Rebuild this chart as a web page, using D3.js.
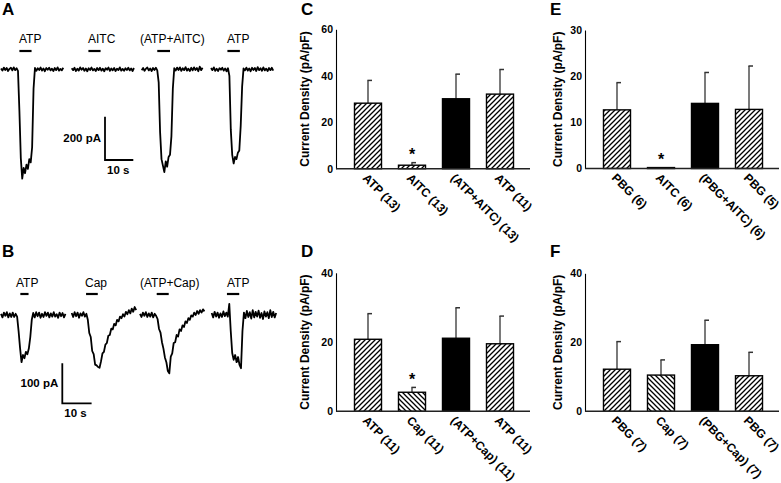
<!DOCTYPE html>
<html><head><meta charset="utf-8">
<script src="https://cdn.jsdelivr.net/npm/d3@7"></script>
<style>body{margin:0;background:#fff}svg{display:block;font-family:"Liberation Sans",Arial,sans-serif}</style>
</head><body><svg id="c" width="781" height="483"></svg>
<script>
// ================= DATA =================
const sampleDt = 0.5; // seconds between samples of each trace
// Panel A traces (pA, inward negative)
const traceLabelsA = ["ATP", "AITC", "(ATP+AITC)", "ATP"];
const stimA = [[6.5, 10.8], [5.9, 10.2], [5.5, 10.0], [5.8, 10.2]]; // s
const traceA1 = [4,-6,8,-3,6,-8,2,7,-5,9,-4,5,-7,
  -190,-410,-505,-455,-480,-440,-460,-415,-430,-360,-90,6,
  -7,5,-3,8,-6,4,-9,6,-2,7,-5,3,-8,6,-4,9,-6,2,-5,7];
const traceA2 = [5,-4,7,-8,3,-6,9,-2,6,-7,4,-9,5,-3,8,-5,2,-8,6,-4,7,-6,3,-9,5,-2,8,-7,4,-5,6,-8,3,-4,9,-6,2,-7,5,-3,7,-5,4,-8,6];
const traceA3 = [-4,6,-7,3,8,-5,4,-8,6,-3,7,-5,
  -60,-290,-415,-445,-475,-425,-450,-405,-395,-310,-90,5,
  -6,8,-3,9,-7,5,-4,10,-6,3,-8,7,-5,9,-3,6,-9,12,-4,7];
const traceA4 = [6,-4,9,-7,3,-8,5,-2,7,-6,4,-9,5,
  -30,-280,-395,-435,-405,-415,-385,-375,-260,-80,4,
  -5,8,-6,4,-9,7,-3,6,-8,10,-4,5,-7,9,-5,3,-8,6,-4,7,-6];
// Panel B traces
const traceLabelsB = ["ATP", "Cap", "(ATP+Cap)", "ATP"];
const stimB = [[6.6, 9.4], [4.9, 8.9], [5.7, 9.8], [5.2, 9.4]];
const traceB1 = [3,-6,6,-2,7,-6,4,-5,6,-5,3,-4,
  -40,-82,-118,-100,-108,-92,-98,-84,-55,-12,
  5,-6,7,-3,6,-7,3,-5,7,-2,6,-6,4,-4,7,-4,2,-7,6,-3,5,-6,3];
const traceB2 = [5,-5,7,-3,6,-7,4,-2,7,-4,3,
  -12,-45,-55,-90,-98,-124,-126,-130,-132,-116,-96,-92,-74,-70,-52,-50,-34,-36,-22,-26,-12,-16,-4,
  -8,2,-4,8,2,12,4,16,8,20,12];
const traceB3 = [3,-5,6,-2,7,-5,4,-4,6,-6,3,-2,
  -10,-35,-44,-68,-84,-106,-118,-140,-146,-104,-96,-70,-68,-50,-54,-36,-40,-26,-30,-16,-20,-8,-12,-1,
  -4,6,0,10,3,12,6,14,9];
const traceB4 = [5,-6,8,-4,6,-7,4,-5,9,-3,6,-4,
  28,-40,-95,-112,-100,-118,-105,-125,-133,-40,
  6,-8,10,-5,7,-9,12,-6,8,-4,11,-7,5,-10,9,-4,7,-8,12,-5,8,-6,5];
const scaleBarA = {pA: 200, s: 10};
const scaleBarB = {pA: 100, s: 10};

// Panel C
const catsC = ["ATP (13)", "AITC (13)", "(ATP+AITC) (13)", "ATP (11)"];
const meansC = [28.2, 1.5, 30.1, 32.1];
const semsC = [9.8, 1.1, 10.6, 10.6];
const fillsC = ["fwd", "fwd", "solid", "fwd"];
const starsC = [false, true, false, false];
const ticksC = [0, 20, 40, 60];
// Panel D
const catsD = ["ATP (11)", "Cap (11)", "(ATP+Cap) (11)", "ATP (11)"];
const meansD = [20.8, 5.5, 21.1, 19.5];
const semsD = [7.4, 1.4, 8.8, 8.0];
const fillsD = ["fwd", "bwd", "solid", "fwd"];
const starsD = [false, true, false, false];
const ticksD = [0, 20, 40];
// Panel E
const catsE = ["PBG (6)", "AITC (6)", "(PBG+AITC) (6)", "PBG (5)"];
const meansE = [12.7, 0.2, 14.1, 12.8];
const semsE = [5.9, 0, 6.7, 9.4];
const fillsE = ["fwd", "fwd", "solid", "fwd"];
const starsE = [false, true, false, false];
const ticksE = [0, 10, 20, 30];
// Panel F
const catsF = ["PBG (7)", "Cap (7)", "(PBG+Cap) (7)", "PBG (7)"];
const meansF = [12.2, 10.5, 19.3, 10.3];
const semsF = [8.0, 4.4, 7.1, 6.8];
const fillsF = ["fwd", "bwd", "solid", "fwd"];
const starsF = [false, false, false, false];
const ticksF = [0, 20, 40];

// ================= DRAWING =================
const svg = d3.select("#c");
const defs = svg.append("defs");
const hp = 5; // hatch period
function hatch(id, d) {
  const p = defs.append("pattern").attr("id", id).attr("patternUnits", "userSpaceOnUse")
    .attr("width", hp).attr("height", hp);
  p.append("rect").attr("width", hp).attr("height", hp).attr("fill", "#fff");
  p.append("path").attr("d", d).attr("stroke", "#000").attr("stroke-width", 1.3).attr("fill", "none");
}
hatch("fwd", `M0,${hp}L${hp},0M-1,1L1,-1M${hp - 1},${hp + 1}L${hp + 1},${hp - 1}`);
hatch("bwd", `M0,0L${hp},${hp}M-1,${hp - 1}L1,${hp + 1}M${hp - 1},-1L${hp + 1},1`);

function panelLetter(t, x, y) {
  svg.append("text").attr("x", x).attr("y", y).text(t)
    .attr("font-size", 17).attr("font-weight", "bold");
}

function tracePanel(cfg) {
  const g = svg.append("g");
  const xs = d3.scaleLinear().domain([0, 10]).range([0, cfg.pxPer10s]);
  const ys = d3.scaleLinear().domain([0, -cfg.scale.pA]).range([cfg.baseY, cfg.baseY + cfg.pxPerBar]);
  cfg.traces.forEach((vals, i) => {
    const off = cfg.offsets[i];
    const line = d3.line().x((d, j) => off + xs(j * sampleDt)).y(d => ys(d));
    g.append("path").attr("d", line(vals)).attr("fill", "none")
      .attr("stroke", "#000").attr("stroke-width", 1.8).attr("stroke-linejoin", "round");
    const s = cfg.stim[i];
    g.append("line").attr("x1", off + xs(s[0])).attr("x2", off + xs(s[1]))
      .attr("y1", cfg.stimY).attr("y2", cfg.stimY).attr("stroke", "#000").attr("stroke-width", 2.2);
    g.append("text").attr("x", cfg.labelX[i]).attr("y", cfg.labelY).text(cfg.labels[i])
      .attr("font-size", 12);
  });
  // scale bar
  const sx = cfg.sbX, sy = cfg.sbY;
  const h = ys(-cfg.scale.pA) - ys(0), w = xs(cfg.scale.s) - xs(0);
  g.append("path").attr("d", `M${sx},${sy - h}L${sx},${sy}L${sx + w},${sy}`)
    .attr("fill", "none").attr("stroke", "#000").attr("stroke-width", 1.8);
  g.append("text").attr("x", sx - 4).attr("y", sy - h / 2 + 4).attr("text-anchor", "end")
    .attr("font-size", 11.5).attr("font-weight", "bold").text(cfg.scale.pA + " pA");
  g.append("text").attr("x", sx + 2).attr("y", sy + 14)
    .attr("font-size", 11.5).attr("font-weight", "bold").text(cfg.scale.s + " s");
}

tracePanel({traces: [traceA1, traceA2, traceA3, traceA4], offsets: [1, 71.7, 141.7, 211],
  stim: stimA, labels: traceLabelsA, labelX: [19, 88, 140, 227], labelY: 42.5, stimY: 51,
  pxPer10s: 28.3, baseY: 69.3, pxPerBar: 43.3, scale: scaleBarA, sbX: 105, sbY: 160});
tracePanel({traces: [traceB1, traceB2, traceB3, traceB4], offsets: [1, 71.7, 140, 211.7],
  stim: stimB, labels: traceLabelsB, labelX: [16, 85, 140, 227], labelY: 287, stimY: 294,
  pxPer10s: 29.3, baseY: 315, pxPerBar: 40, scale: scaleBarB, sbX: 62.3, sbY: 403.3});

function barPanel(cfg) {
  const g = svg.append("g");
  const n = cfg.cats.length;
  const x = d3.scaleBand().domain(d3.range(n)).range([cfg.axisX + 1.5, cfg.axisX + 194.5])
    .paddingInner(0.386).paddingOuter(0.386);
  const y = d3.scaleLinear().domain([0, cfg.ticks[cfg.ticks.length - 1]]).range([cfg.y0, cfg.yTop]);
  const bw = x.bandwidth();
  d3.range(n).forEach(i => {
    const cx = x(i) + bw / 2;
    const top = y(cfg.means[i] + cfg.sems[i]);
    if (cfg.sems[i] > 0) {
      g.append("line").attr("x1", cx).attr("x2", cx).attr("y1", y(cfg.means[i])).attr("y2", top)
        .attr("stroke", "#333").attr("stroke-width", 1.3);
      g.append("line").attr("x1", cx - 0.6).attr("x2", cx + 4).attr("y1", top).attr("y2", top)
        .attr("stroke", "#333").attr("stroke-width", 1.5);
    }
    g.append("rect").attr("x", x(i)).attr("width", bw)
      .attr("y", y(cfg.means[i])).attr("height", cfg.y0 - y(cfg.means[i]))
      .attr("fill", cfg.fills[i] === "solid" ? "#000" : `url(#${cfg.fills[i]})`)
      .attr("stroke", "#000").attr("stroke-width", 1.4);
    if (cfg.stars[i]) {
      g.append("text").attr("x", cx).attr("y", top - 2.5).attr("text-anchor", "middle")
        .attr("font-size", 16).attr("font-weight", "bold").text("*");
    }
    g.append("text").attr("transform", `translate(${cx - 6},${cfg.y0 + 10}) rotate(45)`)
      .attr("font-size", 12).attr("font-weight", "bold").text(cfg.cats[i]);
  });
  const ax = g.append("g").attr("transform", `translate(${cfg.axisX},0)`)
    .call(d3.axisLeft(y).tickValues(cfg.ticks).tickSize(0).tickSizeOuter(0).tickPadding(3));
  ax.select(".domain").attr("stroke", "#000").attr("stroke-width", 1.1);
  ax.selectAll("text").attr("font-size", 10.5).attr("font-weight", "bold")
    .attr("font-family", "Liberation Sans, Arial, sans-serif").attr("fill", "#000");
  g.append("line").attr("x1", cfg.axisX).attr("x2", cfg.axisX + 194).attr("y1", cfg.y0).attr("y2", cfg.y0)
    .attr("stroke", "#222").attr("stroke-width", 1.4);
  g.append("text").attr("transform", `translate(${cfg.titleX},${(cfg.y0 + cfg.yTop) / 2}) rotate(-90)`)
    .attr("text-anchor", "middle").attr("font-size", 12).attr("font-weight", "bold")
    .text("Current Density (pA/pF)");
}

barPanel({cats: catsC, means: meansC, sems: semsC, fills: fillsC, stars: starsC, ticks: ticksC,
  axisX: 336, y0: 168.7, yTop: 29.3, titleX: 309});
barPanel({cats: catsE, means: meansE, sems: semsE, fills: fillsE, stars: starsE, ticks: ticksE,
  axisX: 585, y0: 168.5, yTop: 30, titleX: 562});
barPanel({cats: catsD, means: meansD, sems: semsD, fills: fillsD, stars: starsD, ticks: ticksD,
  axisX: 336, y0: 411.3, yTop: 272.8, titleX: 309});
barPanel({cats: catsF, means: meansF, sems: semsF, fills: fillsF, stars: starsF, ticks: ticksF,
  axisX: 585, y0: 411.3, yTop: 273.3, titleX: 562});

panelLetter("A", 2, 15);
panelLetter("B", 2, 256.7);
panelLetter("C", 301, 15);
panelLetter("D", 301, 257.3);
panelLetter("E", 550, 15);
panelLetter("F", 550, 256.7);
</script></body></html>
